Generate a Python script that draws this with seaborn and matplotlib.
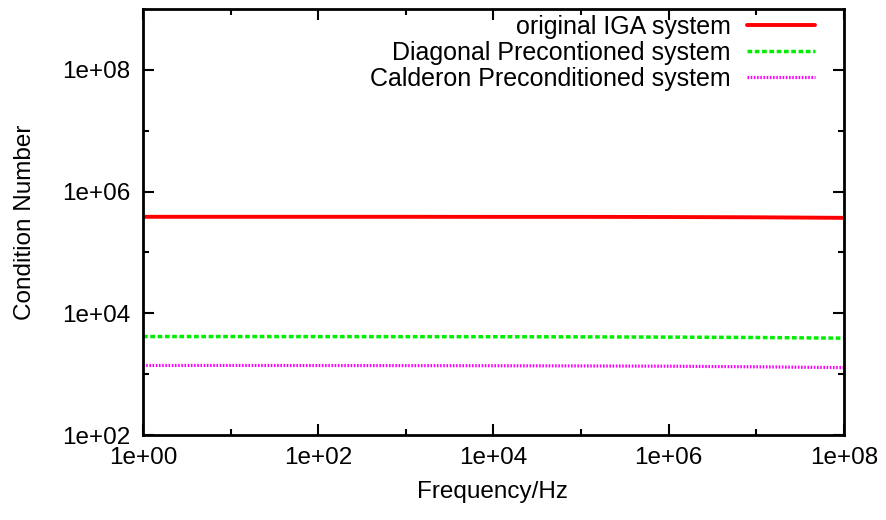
import matplotlib
matplotlib.use("Agg")
import matplotlib.pyplot as plt
import seaborn as sns
import numpy as np
import pandas as pd
from matplotlib.ticker import FixedLocator, FuncFormatter, NullFormatter

freq = [1e0, 1e1, 1e2, 1e3, 1e4, 1e5, 1e6, 1e7, 1e8]
orig = [3.85e5, 3.85e5, 3.85e5, 3.85e5, 3.84e5, 3.84e5, 3.82e5, 3.78e5, 3.7e5]
diag = [4150, 4150, 4140, 4130, 4120, 4100, 4060, 4000, 3900]
cald = [1390, 1390, 1385, 1380, 1375, 1365, 1350, 1320, 1280]
labels = ["original IGA system", "Diagonal Precontioned system", "Calderon Preconditioned system"]
colors = ["#ff0000", "#00ee00", "#ff00ff"]

sns.set_style("ticks")
plt.rcParams['font.family'] = ['Liberation Sans', 'DejaVu Sans']
for k in ["text.color", "axes.labelcolor", "xtick.color", "ytick.color", "axes.edgecolor"]:
    plt.rcParams[k] = "black"

df = pd.DataFrame({"freq": freq * 3,
                   "value": orig + diag + cald,
                   "series": [labels[0]] * 9 + [labels[1]] * 9 + [labels[2]] * 9})

fig = plt.figure(figsize=(8.87, 5.2), dpi=100)
ax = fig.add_axes([143 / 887, 1 - 435 / 520, (844 - 143) / 887, (435 - 9) / 520])
styles = {labels[0]: dict(ls="-", lw=2.8),
          labels[1]: dict(ls=(0, (1.35, 0.75)), lw=2.5),
          labels[2]: dict(ls=(0, (0.5, 0.5)), lw=2.3)}
for lab, col in zip(labels, colors):
    sub = df[df.series == lab]
    sns.lineplot(data=sub, x="freq", y="value", ax=ax, color=col, label=lab, **styles[lab])

ax.set_xscale("log")
ax.set_yscale("log")
ax.set_xlim(1e0, 1e8)
ax.set_ylim(1e2, 1e9)
fmt = FuncFormatter(lambda v, p: "1e+%02d" % int(round(np.log10(v))))
ax.xaxis.set_major_locator(FixedLocator([1e0, 1e2, 1e4, 1e6, 1e8]))
ax.xaxis.set_minor_locator(FixedLocator([1e1, 1e3, 1e5, 1e7]))
ax.yaxis.set_major_locator(FixedLocator([1e2, 1e4, 1e6, 1e8]))
ax.yaxis.set_minor_locator(FixedLocator([1e3, 1e5, 1e7]))
ax.xaxis.set_major_formatter(fmt)
ax.yaxis.set_major_formatter(fmt)
ax.xaxis.set_minor_formatter(NullFormatter())
ax.yaxis.set_minor_formatter(NullFormatter())
ax.tick_params(which="both", direction="in", top=True, right=True, labelsize=17.5, width=1.5, color="black")
ax.tick_params(which="major", length=8)
ax.tick_params(axis="x", which="major", pad=9)
ax.tick_params(axis="y", which="major", pad=9)
ax.tick_params(which="minor", length=4)
for s in ax.spines.values():
    s.set_linewidth(2.0)
    s.set_color("black")
ax.set_xlabel("Frequency/Hz", fontsize=17.5)
ax.set_ylabel("Condition Number", fontsize=17.5)
ax.xaxis.label.set_va("center")
ax.yaxis.label.set_va("center")
ax.xaxis.set_label_coords((493 - 143) / 701, (435 - 492) / 426)
ax.yaxis.set_label_coords((25 - 143) / 701, (435 - 222) / 426)

leg = ax.legend(loc="upper right", bbox_to_anchor=((815 - 143) / 701, (435 - 15) / 426),
                frameon=False, markerfirst=False, fontsize=18,
                handlelength=2.7, labelspacing=0.08, borderaxespad=0, borderpad=0,
                handletextpad=0.68)
for t in leg.get_texts():
    t.set_ha("right")
leg._legend_box.align = "right"

fig.savefig("out.png", dpi=100)
